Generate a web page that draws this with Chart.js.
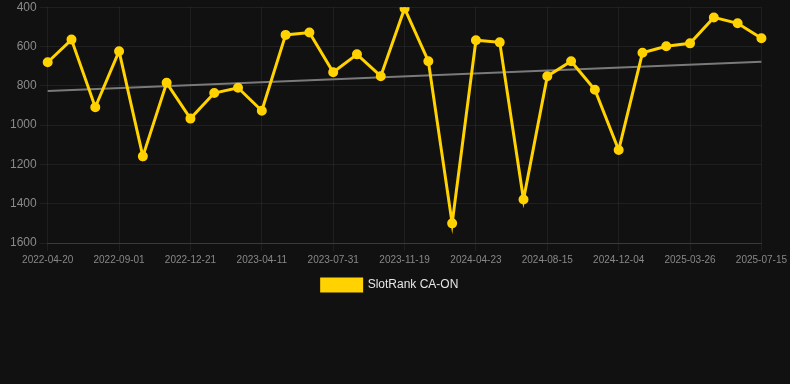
<!DOCTYPE html>
<html>
<head>
<meta charset="utf-8">
<script src="https://cdn.jsdelivr.net/npm/chart.js@4"></script>
<style>
  html, body { margin: 0; padding: 0; background: #111111; }
  #wrap { width: 790px; height: 301px; position: relative; }
</style>
</head>
<body>
<div id="wrap"><canvas id="c"></canvas></div>
<script>
const categories = [
  "2022-04-20","2022-06-04","2022-07-18","2022-09-01","2022-10-08","2022-11-14",
  "2022-12-21","2023-01-27","2023-03-05","2023-04-11","2023-05-18","2023-06-24",
  "2023-07-31","2023-09-06","2023-10-13","2023-11-19","2024-01-10","2024-03-02",
  "2024-04-23","2024-05-31","2024-07-08","2024-08-15","2024-09-21","2024-10-28",
  "2024-12-04","2025-01-10","2025-02-17","2025-03-26","2025-05-02","2025-06-08",
  "2025-07-15"
];
const rankValues = [
  680, 565, 909, 624, 1159, 785, 967, 837, 810, 927,
  541, 529, 731, 640, 751, 406, 675, 1500, 568, 579,
  1379, 751, 675, 820, 1127, 632, 599, 584, 452, 482, 558
];
const trendStart = 827;
const trendEnd = 677;
const yTicks = [400, 600, 800, 1000, 1200, 1400, 1600];

const trendValues = categories.map((_, i) =>
  i === 0 ? trendStart : (i === categories.length - 1 ? trendEnd : null));

const gridColor = 'rgba(255,255,255,0.06)';
new Chart(document.getElementById('c'), {
  type: 'line',
  data: {
    labels: categories,
    datasets: [
      {
        label: 'SlotRank CA-ON',
        data: rankValues,
        borderColor: '#FFD200',
        backgroundColor: '#FFD200',
        pointBackgroundColor: '#FFD200',
        pointBorderColor: '#FFD200',
        borderWidth: 3,
        pointRadius: 4,
        pointBorderWidth: 2,
        tension: 0,
        order: 1
      },
      {
        label: 'trend',
        data: trendValues,
        borderColor: '#7a7a7a',
        backgroundColor: '#7a7a7a',
        borderWidth: 2,
        pointRadius: 0,
        spanGaps: true,
        tension: 0,
        order: 2
      }
    ]
  },
  options: {
    responsive: true,
    maintainAspectRatio: false,
    animation: false,
    layout: { padding: { top: 0, left: 7, right: 17, bottom: 0 } },
    plugins: {
      legend: {
        position: 'bottom',
        labels: {
          color: '#e6e6e6',
          font: { family: 'Liberation Sans, Arial, sans-serif', size: 12 },
          boxWidth: 40,
          boxHeight: 12,
          filter: (item) => item.text !== 'trend'
        }
      },
      tooltip: { enabled: false }
    },
    scales: {
      x: {
        grid: { color: gridColor, drawTicks: true },
        border: { color: 'rgba(255,255,255,0.12)' },
        ticks: {
          color: '#888888',
          font: { family: 'Liberation Sans, Arial, sans-serif', size: 10 },
          autoSkip: true,
          maxTicksLimit: 11,
          maxRotation: 0
        }
      },
      y: {
        reverse: true,
        min: yTicks[0],
        max: yTicks[yTicks.length - 1],
        grid: { color: gridColor },
        border: { display: false },
        afterBuildTicks: (scale) => { scale.ticks = yTicks.map(v => ({ value: v })); },
        ticks: {
          color: '#8a8a8a',
          font: { family: 'Liberation Sans, Arial, sans-serif', size: 12, lineHeight: 0.7 },
          callback: (v) => String(v)
        }
      }
    }
  }
});
</script>
</body>
</html>
